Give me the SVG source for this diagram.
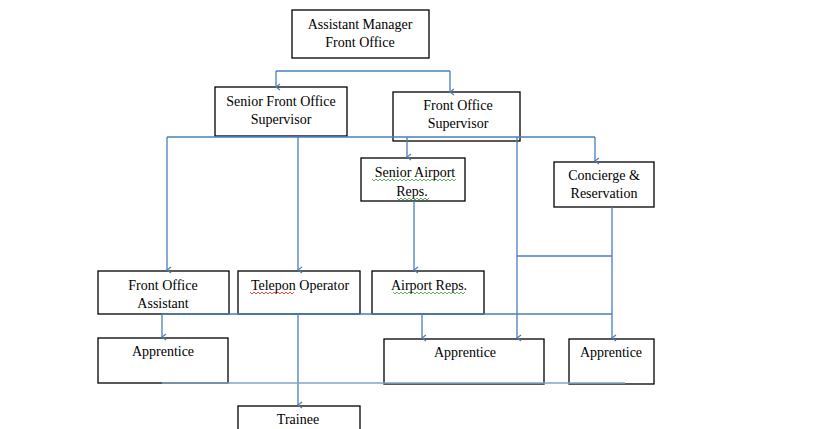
<svg xmlns="http://www.w3.org/2000/svg" width="819" height="429" viewBox="0 0 819 429">
<style>
.box{fill:#fff;stroke:#000;stroke-width:1.3}
.t{font-family:"Liberation Serif","Times New Roman",serif;font-size:14px;fill:#000;text-anchor:middle}
.c{fill:none;stroke:#4a7ebb;stroke-width:1.3}
.wg{fill:none;stroke:#3a9a3a;stroke-width:0.8}
.wr{fill:none;stroke:#e02020;stroke-width:0.8}
</style>
<defs>
<marker id="a" markerWidth="8" markerHeight="8" refX="4" refY="7" orient="auto-start-reverse" markerUnits="userSpaceOnUse" viewBox="0 0 8 8">
<polyline points="1,3 4,7 7,3" fill="none" stroke="#4a7ebb" stroke-width="1.2"/>
</marker>
</defs>
<rect width="819" height="429" fill="#fff"/>
<g id="assistant-manager">
<rect class="box" x="292" y="10" width="137" height="48"/>
<text class="t" x="360" y="29">Assistant Manager</text>
<text class="t" x="360" y="47">Front Office</text>
</g>
<g id="senior-fo-supervisor">
<rect class="box" x="215" y="87" width="132" height="49"/>
<text class="t" x="281" y="106">Senior Front Office</text>
<text class="t" x="281" y="124">Supervisor</text>
</g>
<g id="fo-supervisor">
<rect class="box" x="393" y="92" width="127" height="49"/>
<text class="t" x="458" y="110">Front Office</text>
<text class="t" x="458" y="128">Supervisor</text>
</g>
<g id="senior-airport-reps">
<rect class="box" x="361" y="158" width="104" height="43"/>
<text class="t" x="415" y="177">Senior Airport</text>
<text class="t" x="412" y="196">Reps.</text>
<path class="wg" d="M372,179 l2,2 l2,-2 l2,2 l2,-2 l2,2 l2,-2 l2,2 l2,-2 l2,2 l2,-2 l2,2 l2,-2 l2,2 l2,-2 l2,2 l2,-2 l2,2 l2,-2 l2,2 l2,-2 l2,2 l2,-2 l2,2 l2,-2 l2,2 l2,-2 l2,2 l2,-2 l2,2 l2,-2 l2,2 l2,-2 l2,2 l2,-2 l2,2 l2,-2 l2,2 l2,-2 l2,2 l2,-2 l2,2 l2,-2"/>
<path class="wg" d="M397,198 l2,2 l2,-2 l2,2 l2,-2 l2,2 l2,-2 l2,2 l2,-2 l2,2 l2,-2 l2,2 l2,-2 l2,2 l2,-2 l2,2 l2,-2"/>
</g>
<g id="concierge">
<rect class="box" x="554" y="162" width="100" height="45"/>
<text class="t" x="604" y="180">Concierge &amp;</text>
<text class="t" x="604" y="198">Reservation</text>
</g>
<g id="fo-assistant">
<rect class="box" x="98" y="271" width="131" height="43"/>
<text class="t" x="163" y="290">Front Office</text>
<text class="t" x="163" y="308">Assistant</text>
</g>
<g id="telepon-operator">
<rect class="box" x="238" y="271" width="122" height="43"/>
<text class="t" x="300" y="290">Telepon Operator</text>
<path class="wr" d="M250,292 l2,2 l2,-2 l2,2 l2,-2 l2,2 l2,-2 l2,2 l2,-2 l2,2 l2,-2 l2,2 l2,-2 l2,2 l2,-2 l2,2 l2,-2 l2,2 l2,-2 l2,2 l2,-2 l2,2 l2,-2"/>
</g>
<g id="airport-reps">
<rect class="box" x="372" y="271" width="112" height="43"/>
<text class="t" x="429" y="290">Airport Reps.</text>
<path class="wg" d="M393,292 l2,2 l2,-2 l2,2 l2,-2 l2,2 l2,-2 l2,2 l2,-2 l2,2 l2,-2 l2,2 l2,-2 l2,2 l2,-2 l2,2 l2,-2 l2,2 l2,-2 l2,2 l2,-2 l2,2 l2,-2 l2,2 l2,-2 l2,2 l2,-2 l2,2 l2,-2 l2,2 l2,-2 l2,2 l2,-2 l2,2 l2,-2 l2,2 l2,-2"/>
</g>
<g id="apprentice-1">
<rect class="box" x="98" y="338" width="130" height="45"/>
<text class="t" x="163" y="356">Apprentice</text>
</g>
<g id="apprentice-2">
<rect class="box" x="384" y="339" width="160" height="45"/>
<text class="t" x="465" y="357">Apprentice</text>
</g>
<g id="apprentice-3">
<rect class="box" x="569" y="339" width="85" height="45"/>
<text class="t" x="611" y="357">Apprentice</text>
</g>
<g id="trainee">
<rect class="box" x="238" y="406" width="122" height="30"/>
<text class="t" x="298" y="424">Trainee</text>
</g>
<g id="connectors">
<path class="c" d="M276,71 H450"/>
<path class="c" d="M276,71 V87" marker-end="url(#a)"/>
<path class="c" d="M450,71 V92" marker-end="url(#a)"/>
<path class="c" d="M167,137 H595"/>
<path class="c" d="M167,137 V270" marker-end="url(#a)"/>
<path class="c" d="M298,137 V270" marker-end="url(#a)"/>
<path class="c" d="M407,137 V157" marker-end="url(#a)"/>
<path class="c" d="M595,137 V161" marker-end="url(#a)"/>
<path class="c" d="M517,137 V338" marker-end="url(#a)"/>
<path class="c" d="M414,201 V270" marker-end="url(#a)"/>
<path class="c" d="M612,207 V338" marker-end="url(#a)"/>
<path class="c" d="M517,256 H612"/>
<path class="c" d="M162,314 H612"/>
<path class="c" d="M162,314 V337" marker-end="url(#a)"/>
<path class="c" d="M422,314 V338" marker-end="url(#a)"/>
<path class="c" d="M298,314 V405" marker-end="url(#a)"/>
<path class="c" d="M162,383 H625" style="stroke:#7fa3cf"/>
</g>
</svg>
